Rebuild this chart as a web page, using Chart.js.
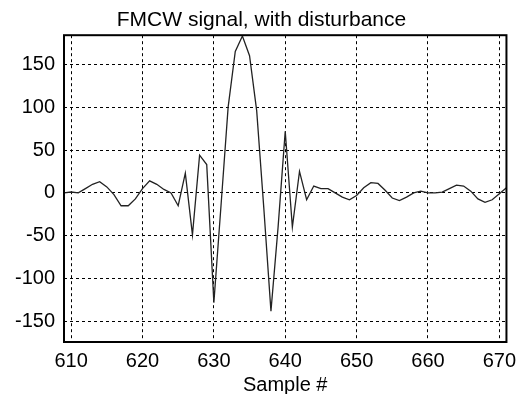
<!DOCTYPE html>
<html>
<head>
<meta charset="utf-8">
<script src="https://cdn.jsdelivr.net/npm/chart.js@4"></script>
<style>
  html, body { margin: 0; padding: 0; background: #fff; }
  #wrap { width: 523px; height: 394px; }
</style>
</head>
<body>
<div id="wrap"><canvas id="fmcw"></canvas></div>
<script>
const sampleNums = [609, 610, 611, 612, 613, 614, 615, 616, 617, 618,
    619, 620, 621, 622, 623, 624, 625, 626, 627, 628,
    629, 630, 631, 632, 633, 634, 635, 636, 637, 638,
    639, 640, 641, 642, 643, 644, 645, 646, 647, 648,
    649, 650, 651, 652, 653, 654, 655, 656, 657, 658,
    659, 660, 661, 662, 663, 664, 665, 666, 667, 668,
    669, 670, 671];
const signal = [0, 1, 0, 5, 10, 13, 7, -2, -15, -15,
    -7, 5, 14, 10, 4, 0, -15, 23, -49, 44,
    33, -128, -15, 100, 165, 183, 160, 96, -18, -138,
    -40, 72, -40, 25, -8, 8, 5, 5, 0, -5,
    -8, -3, 6, 12, 11, 3, -6, -9, -5, 0,
    2, 0, 0, 1, 5, 9, 8, 2, -7, -11,
    -8, -1, 6];

const xTicks = [610, 620, 630, 640, 650, 660, 670];
const yTicks = [-150, -100, -50, 0, 50, 100, 150];

const points = sampleNums.map((s, i) => ({ x: s, y: signal[i] }));

const fontFam = '"Liberation Sans", Arial, Helvetica, sans-serif';

// MATLAB style box around the axes
const boxPlugin = {
    id: 'box',
    afterDraw(chart) {
        const a = chart.chartArea;
        const ctx = chart.ctx;
        ctx.save();
        ctx.strokeStyle = '#000';
        ctx.lineWidth = 2;
        ctx.strokeRect(a.left, a.top, a.right - a.left, a.bottom - a.top);
        ctx.restore();
    }
};

new Chart(document.getElementById('fmcw').getContext('2d'), {
    type: 'scatter',
    data: {
        datasets: [{
            data: points,
            showLine: true,
            borderColor: '#222',
            borderWidth: 1.3,
            pointRadius: 0,
            tension: 0
        }]
    },
    options: {
        responsive: true,
        maintainAspectRatio: false,
        animation: false,
        layout: { padding: 0 },
        plugins: {
            legend: { display: false },
            tooltip: { enabled: false },
            title: {
                display: true,
                text: 'FMCW signal, with disturbance',
                color: '#000',
                font: { family: fontFam, size: 21, weight: 'normal' },
                padding: { top: 8, bottom: 2 }
            }
        },
        scales: {
            x: {
                type: 'linear',
                min: 609,
                max: 671,
                afterBuildTicks: axis => { axis.ticks = xTicks.map(v => ({ value: v })); },
                afterFit: axis => { axis.height = 52; },
                grid: { color: '#000', lineWidth: 1, drawTicks: false },
                border: { display: false, dash: [3, 3] },
                ticks: { color: '#000', padding: 7, maxRotation: 0,
                    font: { family: fontFam, size: 20 } },
                title: {
                    display: true,
                    text: 'Sample #',
                    color: '#000',
                    font: { family: fontFam, size: 20 },
                    padding: { top: 0, bottom: -3 }
                }
            },
            y: {
                min: -174,
                max: 184,
                afterBuildTicks: axis => { axis.ticks = yTicks.map(v => ({ value: v })); },
                afterFit: axis => { axis.width = 64; },
                grid: { color: '#000', lineWidth: 1, drawTicks: false },
                border: { display: false, dash: [3, 3] },
                ticks: { color: '#000', padding: 9,
                    font: { family: fontFam, size: 20 } }
            }
        }
    },
    plugins: [boxPlugin]
});
</script>
</body>
</html>
